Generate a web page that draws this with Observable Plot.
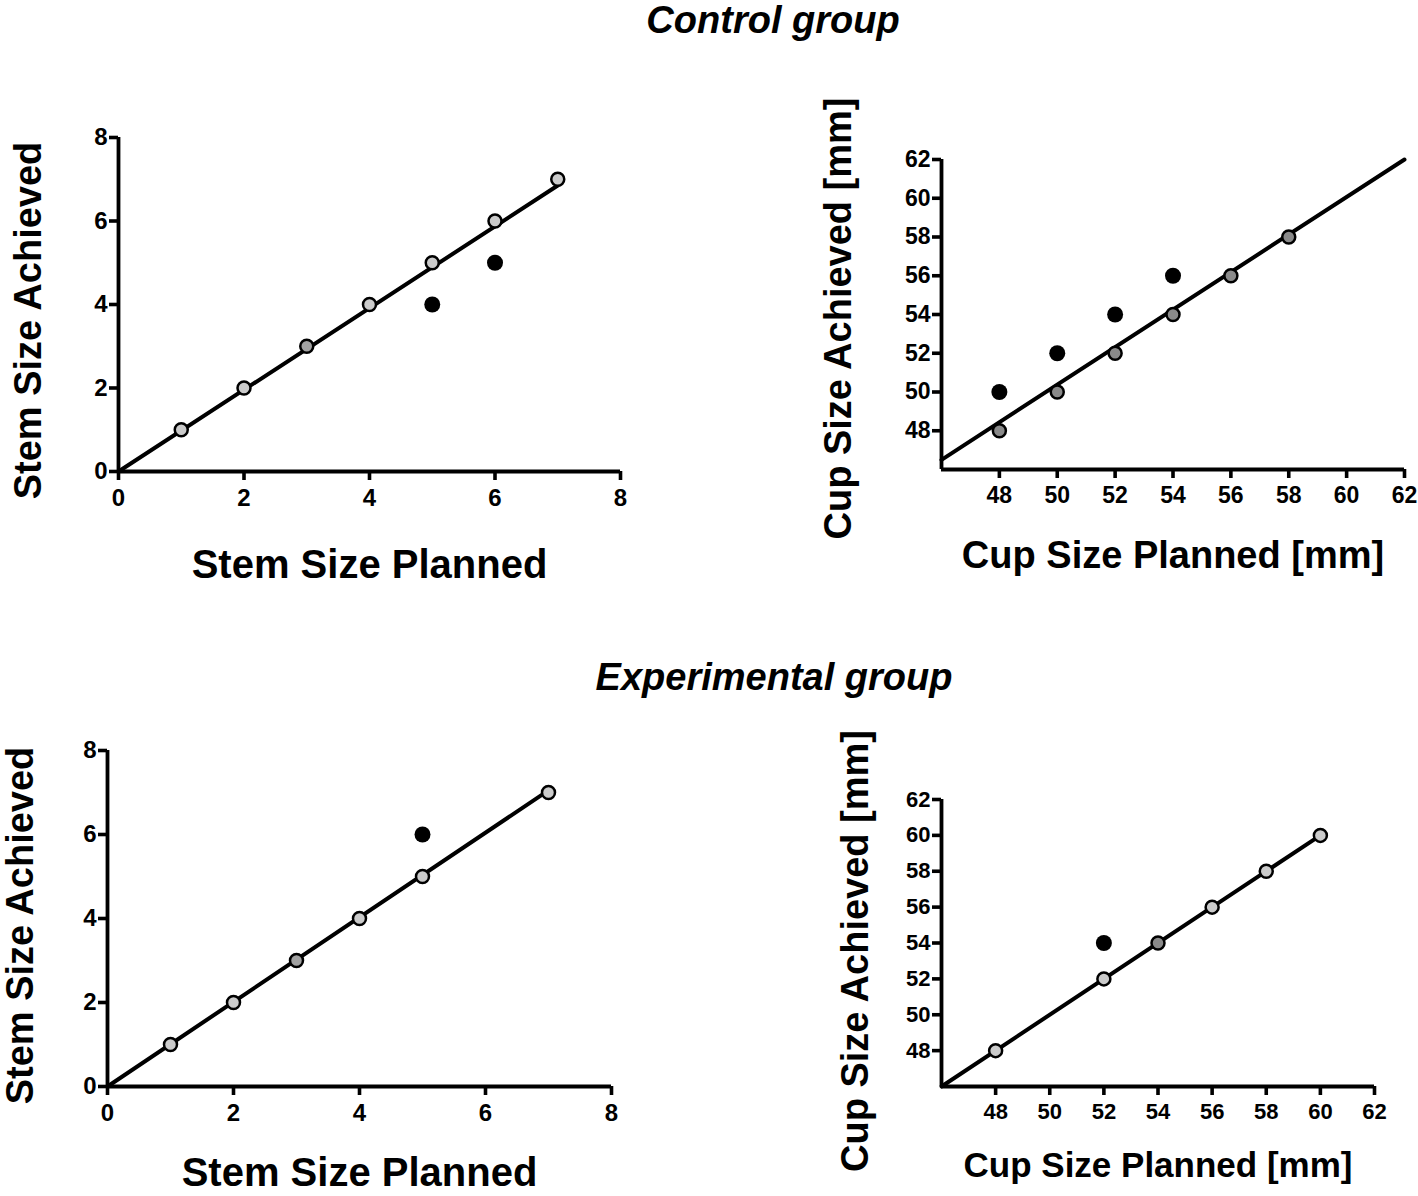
<!DOCTYPE html>
<html><head><meta charset="utf-8">
<script src="https://cdn.jsdelivr.net/npm/d3@7"></script>
<script src="https://cdn.jsdelivr.net/npm/@observablehq/plot@0.6"></script>
<style>
body{margin:0;background:#fff;}
#root{position:relative;width:1418px;height:1196px;overflow:hidden;background:#fff;}
.panel{position:absolute;}
.title{position:absolute;transform:translateX(-50%);white-space:nowrap;font:italic bold 38px "Liberation Sans",Arial,sans-serif;line-height:38px;color:#000;}
</style></head>
<body><div id="root">
<div class="title" style="left:773px;top:1px;">Control group</div>
<div class="title" style="left:774px;top:658px;">Experimental group</div>
</div>
<script>
// ---- Control group: stem ----
const ctrlStemPlanned  = [1, 2, 3, 4, 5, 6, 7];
const ctrlStemAchieved = [1, 2, 3, 4, 5, 6, 7];
const ctrlStemTone     = ["light","light","mid","light","light","light","light"];
const ctrlStemOffPlanned  = [5, 6];
const ctrlStemOffAchieved = [4, 5];
const ctrlStemFitX = [0, 7];
const ctrlStemFitY = [0, 6.85];
// ---- Control group: cup ----
const ctrlCupPlanned  = [48, 50, 52, 54, 56, 58];
const ctrlCupAchieved = [48, 50, 52, 54, 56, 58];
const ctrlCupTone     = ["dark","dark","dark","dark","dark","dark"];
const ctrlCupOffPlanned  = [48, 50, 52, 54];
const ctrlCupOffAchieved = [50, 52, 54, 56];
const ctrlCupFitX = [46, 62];
const ctrlCupFitY = [46.5, 62];
// ---- Experimental group: stem ----
const expStemPlanned  = [1, 2, 3, 4, 5, 7];
const expStemAchieved = [1, 2, 3, 4, 5, 7];
const expStemTone     = ["light","light","mid","light","light","light"];
const expStemOffPlanned  = [5];
const expStemOffAchieved = [6];
const expStemFitX = [0, 7];
const expStemFitY = [0, 7.05];
// ---- Experimental group: cup ----
const expCupPlanned  = [48, 52, 54, 56, 58, 60];
const expCupAchieved = [48, 52, 54, 56, 58, 60];
const expCupTone     = ["light","light","dark","light","light","light"];
const expCupOffPlanned  = [52];
const expCupOffAchieved = [54];
const expCupFitX = [46, 60];
const expCupFitY = [46, 60];
// ---- tick labels ----
const stemTicks = [0, 2, 4, 6, 8];
const cupTicks  = [48, 50, 52, 54, 56, 58, 60, 62];

const shades = {light: "#cbcbcb", mid: "#a2a2a2", dark: "#8a8a8a"};
const tickFont = '"Liberation Sans Narrow","Liberation Sans",Arial,sans-serif';
const labelFont = '"Liberation Sans",Arial,sans-serif';

function panel(o) {
  const pts = o.px.map((x, i) => ({x, y: o.py[i], tone: o.tone[i]}));
  const off = o.ox.map((x, i) => ({x, y: o.oy[i]}));
  const fit = o.lx.map((x, i) => ({x, y: o.ly[i]}));
  const chart = Plot.plot({
    width: o.width, height: o.height,
    marginLeft: o.ml, marginRight: o.mr, marginTop: o.mt, marginBottom: o.mb,
    x: {domain: o.domain, nice: false},
    y: {domain: o.domain, nice: false},
    style: {background: "transparent", overflow: "visible", fontFamily: tickFont, color: "#000"},
    marks: [
      Plot.ruleY([o.domain[0]], {strokeWidth: 3.8, stroke: "#000"}),
      Plot.ruleX([o.domain[0]], {strokeWidth: 3.8, stroke: "#000"}),
      Plot.axisX({ticks: o.ticks, tickFormat: d => String(d), tickSize: 9, tickPadding: 8, strokeWidth: 3.6, fontSize: o.tickSize, fontWeight: "bold", fontFamily: tickFont, label: null}),
      Plot.axisY({ticks: o.ticks, tickFormat: d => String(d), tickSize: 9, tickPadding: 2, strokeWidth: 3.6, fontSize: o.tickSize, fontWeight: "bold", fontFamily: tickFont, label: null}),
      Plot.line(fit, {x: "x", y: "y", stroke: "#000", strokeWidth: 4}),
      Plot.dot(off, {x: "x", y: "y", r: 8, fill: "#000", stroke: "none"}),
      Plot.dot(pts, {x: "x", y: "y", r: 6.5, fill: d => shades[d.tone], stroke: "#000", strokeWidth: 2.5}),
      Plot.text([o.xLabel], {text: d => d, frameAnchor: "bottom", textAnchor: "middle", dy: o.xdy, fontSize: o.xfs, fontWeight: "bold", fontFamily: labelFont, lineAnchor: "middle", fill: "#000"}),
      Plot.text([o.yLabel], {text: d => d, frameAnchor: "left", textAnchor: "middle", rotate: -90, dx: o.ydx, dy: o.ydy, fontSize: o.yfs, fontWeight: "bold", fontFamily: labelFont, lineAnchor: "middle", fill: "#000"})
    ]
  });
  chart.classList.add("panel");
  chart.style.left = o.left + "px";
  chart.style.top = o.top + "px";
  document.getElementById("root").appendChild(chart);
}

panel({left: 0, top: 100, width: 640, height: 500, ml: 118, mr: 20, mt: 37, mb: 129,
  domain: [0, 8], ticks: stemTicks, tickSize: 24,
  px: ctrlStemPlanned, py: ctrlStemAchieved, tone: ctrlStemTone,
  ox: ctrlStemOffPlanned, oy: ctrlStemOffAchieved, lx: ctrlStemFitX, ly: ctrlStemFitY,
  xLabel: "Stem Size Planned", yLabel: "Stem Size Achieved",
  xdy: 94, xfs: 40, ydx: -90, ydy: 16, yfs: 38});

panel({left: 790, top: 60, width: 628, height: 540, ml: 151, mr: 14, mt: 99, mb: 131,
  domain: [46, 62], ticks: cupTicks, tickSize: 23,
  px: ctrlCupPlanned, py: ctrlCupAchieved, tone: ctrlCupTone,
  ox: ctrlCupOffPlanned, oy: ctrlCupOffAchieved, lx: ctrlCupFitX, ly: ctrlCupFitY,
  xLabel: "Cup Size Planned [mm]", yLabel: "Cup Size Achieved [mm]",
  xdy: 86, xfs: 38, ydx: -103, ydy: 4, yfs: 38});

panel({left: 0, top: 720, width: 640, height: 476, ml: 107, mr: 29, mt: 30, mb: 110,
  domain: [0, 8], ticks: stemTicks, tickSize: 24,
  px: expStemPlanned, py: expStemAchieved, tone: expStemTone,
  ox: expStemOffPlanned, oy: expStemOffAchieved, lx: expStemFitX, ly: expStemFitY,
  xLabel: "Stem Size Planned", yLabel: "Stem Size Achieved",
  xdy: 87, xfs: 40, ydx: -87, ydy: 7, yfs: 38});

panel({left: 790, top: 720, width: 628, height: 476, ml: 151, mr: 44, mt: 79, mb: 110,
  domain: [46, 62], ticks: cupTicks, tickSize: 22,
  px: expCupPlanned, py: expCupAchieved, tone: expCupTone,
  ox: expCupOffPlanned, oy: expCupOffAchieved, lx: expCupFitX, ly: expCupFitY,
  xLabel: "Cup Size Planned [mm]", yLabel: "Cup Size Achieved [mm]",
  xdy: 79, xfs: 35, ydx: -86, ydy: 8, yfs: 38});
</script>
</body></html>
